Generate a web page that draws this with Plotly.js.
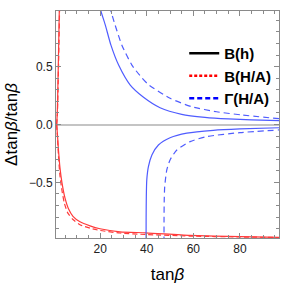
<!DOCTYPE html>
<html>
<head>
<meta charset="utf-8">
<script src="https://cdn.plot.ly/plotly-3.0.1.min.js"></script>
<style>html,body{margin:0;padding:0;background:#fff;}#chart{width:284px;height:284px;}</style>
</head>
<body>
<div id="chart"></div>
<script>
// ---- data ----
const redSolidUpperX = [1.29, 1.55, 1.98, 2.41, 2.46];
const redSolidUpperY = [0.0, 0.10, 0.50, 0.98, 1.03];
const redDashUpperX  = [1.29, 1.62, 2.08, 2.52, 2.57];
const redDashUpperY  = [0.0, 0.10, 0.50, 0.98, 1.03];

const redSolidLowerX = [1.29, 1.63, 2.06, 2.71, 3.57, 4.85, 6.36, 8.29, 11.3, 15.6, 19.9, 28.5, 39.6, 58.5, 80.0, 96.8];
const redSolidLowerY = [0.0, -0.09, -0.22, -0.375, -0.504, -0.634, -0.728, -0.793, -0.84, -0.875, -0.90, -0.927, -0.935, -0.957, -0.968, -0.974];
const redDashLowerX  = [1.29, 1.60, 2.00, 2.60, 3.40, 4.60, 6.10, 8.29, 11.3, 15.6, 19.9, 28.5, 39.6, 58.5, 80.0, 96.8];
const redDashLowerY  = [0.0, -0.10, -0.25, -0.42, -0.55, -0.68, -0.765, -0.82, -0.865, -0.895, -0.915, -0.937, -0.95, -0.963, -0.971, -0.976];

const blueSolidUpperX = [20.0, 20.3, 22.2, 24.6, 27.9, 32.9, 38.6, 45.7, 55.0, 65.0, 75.0, 85.0, 96.8];
const blueSolidUpperY = [1.02, 0.98, 0.858, 0.685, 0.513, 0.34, 0.235, 0.145, 0.088, 0.062, 0.048, 0.040, 0.033];
const blueDashUpperX  = [24.2, 24.6, 26.4, 29.3, 33.6, 38.0, 40.7, 50.0, 59.4, 70.0, 80.9, 96.8];
const blueDashUpperY  = [1.02, 0.98, 0.858, 0.685, 0.513, 0.40, 0.345, 0.226, 0.153, 0.11, 0.082, 0.05];

const blueSolidLowerX = [39.70, 39.72, 39.80, 40.0, 40.7, 42.2, 45.0, 50.0, 57.2, 68.6, 80.0, 96.8];
const blueSolidLowerY = [-1.02, -0.80, -0.62, -0.478, -0.364, -0.263, -0.177, -0.115, -0.075, -0.05, -0.038, -0.028];
const blueDashLowerX  = [47.40, 47.42, 47.50, 47.7, 48.6, 50.0, 52.9, 58.6, 65.7, 80.0, 96.8];
const blueDashLowerY  = [-1.02, -0.80, -0.65, -0.536, -0.392, -0.306, -0.22, -0.148, -0.105, -0.07, -0.047];

const legendNames = ['B(h)', 'B(H/A)', 'Γ(H/A)'];
const xTicks = [20, 40, 60, 80];
const yTicks = [-0.5, 0.0, 0.5];

const RED = '#ff3a3a', BLUE = '#4f5cff';
function curve(x, y, color, dash) {
  return {x: x, y: y, type: 'scatter', mode: 'lines', showlegend: false, hoverinfo: 'skip',
          line: {color: color, width: 1.2, dash: dash, shape: 'spline', smoothing: 0.6}};
}
const traces = [
  curve(redSolidUpperX, redSolidUpperY, RED, 'solid'),
  curve(redDashUpperX, redDashUpperY, RED, '5px,3px'),
  curve(redSolidLowerX, redSolidLowerY, RED, 'solid'),
  curve(redDashLowerX, redDashLowerY, RED, '5px,3px'),
  curve(blueSolidUpperX, blueSolidUpperY, BLUE, 'solid'),
  curve(blueDashUpperX, blueDashUpperY, BLUE, '6px,4px'),
  curve(blueSolidLowerX, blueSolidLowerY, BLUE, 'solid'),
  curve(blueDashLowerX, blueDashLowerY, BLUE, '6px,4px'),
  {x: [null], y: [null], type: 'scatter', mode: 'lines', name: legendNames[0], line: {color: '#000', width: 2.5}},
  {x: [null], y: [null], type: 'scatter', mode: 'lines', name: legendNames[1], line: {color: '#ff0000', width: 2.5, dash: '3px,2px'}},
  {x: [null], y: [null], type: 'scatter', mode: 'lines', name: legendNames[2], line: {color: '#0000ff', width: 2.5, dash: '5px,3px'}}
];

const FONT = 'Liberation Sans, Arial, Helvetica, sans-serif';
const axisCommon = {
  showgrid: false, showline: true, linecolor: '#8a8a8a', linewidth: 1, mirror: 'ticks',
  ticks: 'inside', ticklen: 5, tickcolor: '#8a8a8a', tickwidth: 1,
  tickfont: {family: FONT, size: 12, color: '#222'}
};
const layout = {
  width: 284, height: 284,
  margin: {l: 56, r: 5, t: 11, b: 46, pad: 0},
  paper_bgcolor: '#fff', plot_bgcolor: '#fff',
  showlegend: true,
  legend: {x: 0.575, y: 0.885, xanchor: 'left', yanchor: 'top', bgcolor: 'rgba(0,0,0,0)',
           font: {family: FONT, size: 15, color: '#000', weight: 'bold'}, tracegroupgap: 0},
  xaxis: Object.assign({}, axisCommon, {
    range: [1, 96.8], tickvals: xTicks, zeroline: false,
    minor: {dtick: 5, tick0: 0, ticks: 'inside', ticklen: 3, tickcolor: '#8a8a8a', tickwidth: 1},
    title: {text: 'tan<i>β</i>', font: {family: FONT, size: 17, color: '#000'}, standoff: 12}
  }),
  yaxis: Object.assign({}, axisCommon, {
    range: [-0.98, 0.98], tickvals: yTicks, tickformat: '.1f',
    zeroline: true, zerolinecolor: '#c4c4c4', zerolinewidth: 2,
    minor: {dtick: 0.1, tick0: 0, ticks: 'inside', ticklen: 3, tickcolor: '#8a8a8a', tickwidth: 1},
    title: {text: 'Δtan<i>β</i>/tan<i>β</i>', font: {family: FONT, size: 17, color: '#000'}, standoff: 6}
  })
};
Plotly.newPlot('chart', traces, layout, {staticPlot: true, displayModeBar: false});
</script>
</body>
</html>
